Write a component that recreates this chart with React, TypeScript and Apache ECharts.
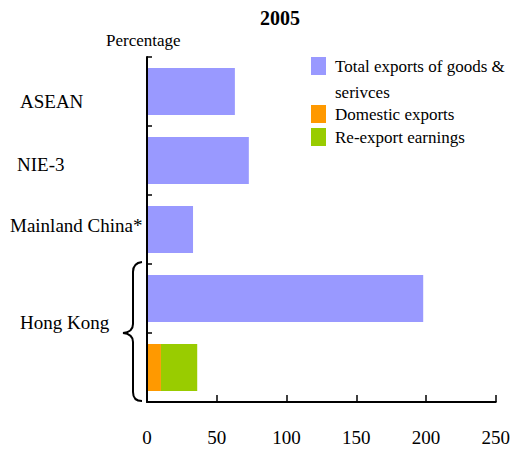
import React, { useEffect, useRef } from "react";
import * as echarts from "echarts";

const categories = ["ASEAN", "NIE-3", "Mainland China*", "Hong Kong", "Hong Kong breakdown"];
const totalExports = [63, 73, 33, 198];
const domesticExports = [10];
const reexportEarnings = [26];
const xTicks = { min: 0, max: 250, interval: 50 };

const seriesNames = ["Total exports of goods & serivces", "Domestic exports", "Re-export earnings"];

const bracePath =
  "M142,262 Q133,263 133,272 L133,324 Q133,332 123,333 Q133,334 133,342 L133,392 Q133,401 142,401";

let registered = false;
function ensureShape() {
  if (registered) return;
  echarts.graphic.registerShape("brace", echarts.graphic.extendPath(bracePath, {}));
  registered = true;
}

const FONT = "'Liberation Serif', 'Times New Roman', serif";

export default function App() {
  const ref = useRef<HTMLDivElement>(null);
  useEffect(() => {
    ensureShape();
    const chart = echarts.init(ref.current!, null, { renderer: "svg" });
    const n = categories.length;
    const totalData = categories.map((_, i) => (i < totalExports.length ? totalExports[i] : "-"));
    const domData = categories.map((_, i) => (i === n - 1 ? domesticExports[0] : "-"));
    const reData = categories.map((_, i) => (i === n - 1 ? reexportEarnings[0] : "-"));
    const richKeys = ["a", "b", "c", "d"];
    chart.setOption({
      animation: false,
      title: [
        {
          text: "2005",
          left: 260,
          top: 8,
          padding: 0,
          textStyle: { fontSize: 20, fontWeight: "bold", fontFamily: FONT, color: "#000" },
        },
        {
          text: "Percentage",
          left: 106,
          top: 32,
          padding: 0,
          textStyle: { fontSize: 17, fontWeight: "normal", fontFamily: FONT, color: "#000" },
        },
      ],
      legend: [
        {
          data: [seriesNames[0]],
          orient: "vertical",
          left: 311,
          top: 27,
          padding: 0,
          itemWidth: 15,
          itemHeight: 18,
          icon: "rect",
          selectedMode: false,
          formatter: () => " \nTotal exports of goods &\nserivces",
          textStyle: {
            fontSize: 17,
            fontFamily: FONT,
            color: "#000",
            lineHeight: 26,
            padding: [0, 0, 0, 4],
          },
        },
        {
          data: [seriesNames[1], seriesNames[2]],
          orient: "vertical",
          left: 311,
          top: 105,
          padding: 0,
          itemGap: 5,
          itemWidth: 15,
          itemHeight: 18,
          icon: "rect",
          selectedMode: false,
          textStyle: {
            fontSize: 17,
            fontFamily: FONT,
            color: "#000",
            lineHeight: 18,
            padding: [0, 0, 0, 4],
          },
        },
      ],
      grid: { left: 147, right: 14, top: 57, bottom: 48, containLabel: false },
      xAxis: {
        type: "value",
        min: xTicks.min,
        max: xTicks.max,
        interval: xTicks.interval,
        splitLine: { show: false },
        axisLine: { show: true, lineStyle: { color: "#000", width: 2 } },
        axisTick: { show: true, inside: true, length: 7, lineStyle: { color: "#000", width: 1.5 } },
        axisLabel: { fontSize: 19, fontFamily: FONT, color: "#000", margin: 26 },
      },
      yAxis: {
        type: "category",
        inverse: true,
        data: categories,
        z: 5,
        axisLine: { show: true, lineStyle: { color: "#000", width: 2 } },
        axisTick: { show: true, inside: true, length: 5, lineStyle: { color: "#000", width: 1.5 } },
        axisLabel: {
          align: "left",
          margin: 137,
          fontSize: 19,
          fontFamily: FONT,
          color: "#000",
          formatter: (v: string, i: number) => (i < 4 ? `{${richKeys[i]}|${v}}` : ""),
          rich: {
            a: { fontSize: 19, fontFamily: FONT, padding: [20, 0, 0, 10] },
            b: { fontSize: 19, fontFamily: FONT, padding: [7, 0, 0, 7] },
            c: { fontSize: 19, fontFamily: FONT, padding: [0, 0, 8, 0] },
            d: { fontSize: 19, fontFamily: FONT, padding: [48, 0, 0, 10] },
          },
        },
      },
      series: [
        {
          name: seriesNames[0],
          type: "bar",
          stack: "all",
          barWidth: 47,
          data: totalData,
          itemStyle: { color: "#9999FF" },
        },
        {
          name: seriesNames[1],
          type: "bar",
          stack: "all",
          barWidth: 47,
          data: domData,
          itemStyle: { color: "#FF9900" },
        },
        {
          name: seriesNames[2],
          type: "bar",
          stack: "all",
          barWidth: 47,
          data: reData,
          itemStyle: { color: "#99CC00" },
        },
      ],
      graphic: [
        {
          type: "brace",
          x: 0,
          y: 0,
          style: { stroke: "#000", lineWidth: 2, fill: "none" },
        },
      ],
    });
    return () => chart.dispose();
  }, []);
  return (
    <div
      ref={ref}
      style={{ position: "fixed", left: 0, top: 0, width: 513, height: 450, background: "#fff" }}
    />
  );
}
